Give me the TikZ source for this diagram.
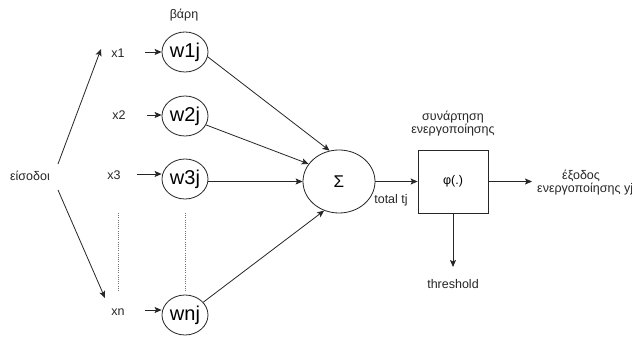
\documentclass[tikz,border=0pt]{standalone}
\usepackage{fontspec}
\setmainfont{Liberation Sans}
\usetikzlibrary{arrows.meta,shapes.geometric}
\begin{document}
\begin{tikzpicture}[x=1pt,y=-1pt,
  line/.style={draw=black!85, line width=0.8pt},
  arr/.style={line, -{Stealth[length=7pt,width=6pt,inset=1.5pt]}},
  lbl/.style={font=\fontsize{12.5}{13}\selectfont, text=black!85, inner sep=0pt},
  wnode/.style={ellipse, draw=black!85, line width=0.8pt, minimum width=46pt,
    minimum height=40pt, inner sep=0pt, font=\fontsize{20}{21}\selectfont},
  dots/.style={draw=black!55, line width=0.8pt, dash pattern=on 1pt off 1.2pt}
]
\clip (0,0) rectangle (632,339);
\fill[white] (0,0) rectangle (632,339);

% inputs
\node[lbl] (in) at (30,176) {είσοδοι};
\node[lbl] (tw) at (184,15) {βάρη};
\node[lbl] (x1) at (118,53) {x1};
\node[lbl] (x2) at (119,115) {x2};
\node[lbl] (x3) at (114,175) {x3};
\node[lbl] (xn) at (118,312) {xn};

% weights
\node[wnode] (w1) at (185,52) {w1j};
\node[wnode] (w2) at (185,116) {w2j};
\node[wnode] (w3) at (185,179) {w3j};
\node[wnode] (wn) at (185,315) {wnj};

% summation and activation
\node[ellipse, draw=black!85, line width=0.8pt, minimum width=72pt, minimum height=63pt,
  inner sep=0pt, font=\fontsize{17}{18}\selectfont] (sig) at (339,181.5) {Σ};
\node[rectangle, draw=black!85, line width=0.8pt, minimum width=70pt, minimum height=63pt,
  inner sep=0pt, font=\fontsize{12.5}{13}\selectfont] (box) at (453,181.5) {φ(.)};
\node[lbl, align=center] (fn) at (453,124) {συνάρτηση\\ενεργοποίησης};
\node[lbl, anchor=west] (outa) at (562,176) {έξοδος};
\node[lbl, anchor=west] (outb) at (537,189) {ενεργοποίησης yj};
\node[lbl] (tot) at (391,200) {total tj};
\node[lbl] (thr) at (453,284) {threshold};

% free ends
\coordinate (a0) at (58,164);
\coordinate (b0) at (58,190);
\coordinate (e1) at (101,49);
\coordinate (en) at (105,298);
\coordinate (s1) at (145,52);
\coordinate (s2) at (147,115);
\coordinate (s3) at (137,174);
\coordinate (sn) at (145,310);
\coordinate (out) at (532,181.5);
\coordinate (th) at (453,267);

% connectors
\draw[arr] (a0) -- (e1);
\draw[arr] (b0) -- (en);
\draw[arr] (s1) -- (w1.west |- s1);
\draw[arr] (s2) -- (w2.west |- s2);
\draw[arr] (s3) -- (w3.west |- s3);
\draw[arr] (sn) -- (wn.west |- sn);
\draw[arr] (w1.-12) -- (sig.107);
\draw[arr] (w2.-23) -- (sig.150);
\draw[arr] (w3.east |- sig.west) -- (sig.west);
\draw[arr] (wn.35) -- (sig.243);
\draw[arr] (sig.east) -- (box.west);
\draw[arr] (box.east) -- (out);
\draw[arr] (box.south) -- (th);

% ellipsis marks
\coordinate (d1) at (118,213);
\coordinate (d2) at (118,292);
\coordinate (d3) at (185,213);
\coordinate (d4) at (185,292);
\draw[dots] (d1) -- (d2);
\draw[dots] (d3) -- (d4);
\end{tikzpicture}
\end{document}
